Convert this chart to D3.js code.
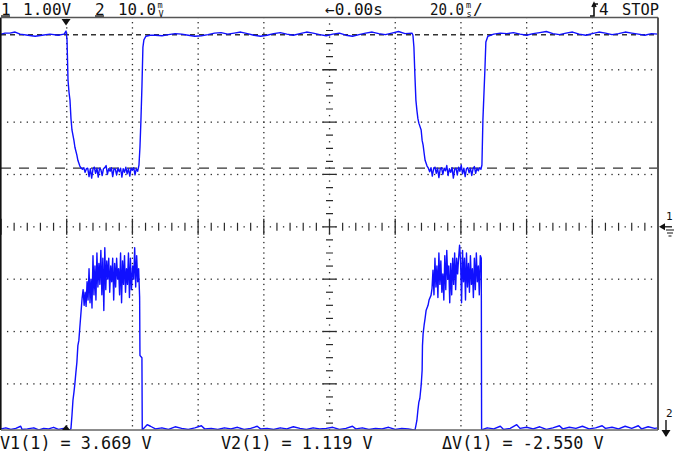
<!DOCTYPE html>
<html><head><meta charset="utf-8">
<script src="https://cdn.jsdelivr.net/npm/d3@7"></script>
<style>body{margin:0;background:#fff;}svg{display:block;}</style>
</head><body><svg id="c" width="674" height="452"></svg>
<script>
// ---- settings ----
const ch1VoltsPerDiv = 1.00;      // "1 1.00V"
const ch2MilliVoltsPerDiv = 10.0; // "2 10.0 mV"
const timePerDiv = 20.0;          // "20.0 ms/"
const ch1Position = 0;            // divisions (ground marker "1" at centre)
const ch2Position = -3.9;         // divisions (ground marker "2" at bottom)
const cursorVolts = [3.669, 1.119];
const readouts = ["V1(1) = 3.669 V", "V2(1) = 1.119 V", "\u0394V(1) = -2.550 V"];
const triggerTime = 19.8;         // ms from left edge

// ---- channel 1 trace: [time ms, volts] ----
const ch1Trace = [
 [0,3.68],[1.2,3.70],[2.7,3.70],[4.3,3.72],[5.8,3.68],[8.2,3.66],[10.4,3.64],[12.5,3.66],[14.9,3.68],[17.4,3.66],[19.2,3.68],[19.8,3.74],
 [20.1,3.57],[20.4,2.80],[20.7,2.57],[21.0,2.42],[21.3,2.07],[21.6,1.85],[22.2,1.65],[22.5,1.52],[23.1,1.37],[23.4,1.27],
 [24.0,1.16],[24.4,1.12],[24.8,1.10],[25.2,1.13],[25.6,1.04],[26.0,1.11],[26.4,1.12],[26.8,0.96],[27.2,1.11],[27.6,0.93],[28.0,1.10],[28.4,1.14],
 [28.8,1.02],[29.2,1.12],[29.6,0.95],[30.0,1.12],[30.4,1.09],[30.8,0.98],[31.2,1.11],[31.6,1.13],[32.0,1.17],[32.4,1.00],[32.8,1.11],[33.2,1.06],
 [33.6,1.13],[34.0,0.96],[34.4,1.11],[34.8,1.10],[35.2,0.99],[35.6,1.12],[36.0,1.05],[36.4,1.12],[36.8,0.95],[37.2,1.11],[37.6,1.04],[38.0,1.14],
 [38.4,1.01],[38.8,1.11],[39.2,0.97],[39.6,1.12],[40.0,1.08],[40.4,1.13],[40.8,0.99],[41.2,1.11],[41.6,1.06],[42.0,1.18],
 [42.3,1.52],[42.6,2.04],[42.9,2.67],[43.2,3.43],[43.5,3.57],[44.1,3.64],[45.4,3.66],
 [47,3.66],[49,3.65],[51,3.67],[53,3.69],[55,3.68],[57,3.66],[59,3.64],[61,3.65],[63,3.67],[65,3.70],[67,3.71],[69,3.68],[71,3.70],[73,3.72],
 [75,3.69],[77,3.66],[79,3.64],[81,3.66],[83,3.69],[85,3.71],[87,3.68],[89,3.66],[91,3.69],[93,3.72],[95,3.70],[97,3.67],[99,3.65],[101,3.68],
 [103,3.70],[105,3.66],[107,3.64],[109,3.67],[111,3.70],[113,3.72],[115,3.69],[117,3.67],[119,3.70],[121,3.73],[123,3.69],[125.1,3.70],
 [125.4,3.66],[125.7,3.43],[126.0,2.89],[126.3,2.42],[126.6,2.23],[126.9,2.07],[127.2,1.98],[127.9,1.85],[128.2,1.65],[128.5,1.56],[128.8,1.41],[129.1,1.27],
 [129.7,1.16],[130.1,1.12],[130.5,1.05],[130.9,1.13],[131.3,0.97],[131.7,1.11],[132.1,1.14],[132.5,1.02],[132.9,1.12],[133.3,0.94],[133.7,1.10],
 [134.1,1.13],[134.5,1.00],[134.9,1.12],[135.3,1.07],[135.7,1.17],[136.1,0.98],[136.5,1.11],[136.9,1.04],[137.3,1.13],[137.7,0.93],[138.1,1.10],
 [138.5,1.12],[138.9,0.99],[139.3,1.14],[139.7,1.06],[140.1,1.18],[140.5,1.01],[140.9,1.12],[141.3,0.96],[141.7,1.11],[142.1,1.13],[142.5,1.03],
 [142.9,1.12],[143.3,0.98],[143.7,1.11],[144.1,1.15],[144.5,1.02],[144.9,1.12],[145.3,1.07],[145.7,1.13],[146.1,1.10],[146.4,1.18],
 [146.7,2.04],[147.0,2.52],[147.3,2.99],[147.6,3.53],[148.2,3.64],
 [150,3.68],[152,3.70],[154,3.69],[156,3.71],[158,3.68],[160,3.66],[162,3.69],[164,3.71],[166,3.73],[168,3.69],[170,3.67],[172,3.70],[174,3.72],
 [176,3.68],[178,3.66],[180,3.69],[182,3.72],[184,3.70],[186,3.67],[188,3.69],[190,3.72],[192,3.70],[194,3.68],[196,3.66],[198,3.69],[200,3.68]
];

// ---- channel 2 trace: [time ms, millivolts] ----
const ch2Trace = [
 [0,0.4],[1.5,0.6],[3,0.3],[4.5,0.5],[6,0.9],[6.4,0.3],[8,0.4],[10,0.6],[11.5,0.2],[13,0.5],[14.5,0.4],[16,0.7],[17.5,0.3],[19,0.5],[20.5,0.2],[21.0,0.1],
 [21.3,0.5],[21.6,2.96],[21.9,5.83],[22.2,7.36],[22.5,9.08],[22.8,11.19],[23.1,13.1],[23.4,16.3],[23.7,17.3],[24.0,19.8],[24.4,23.0],
 [24.7,25.5],[25.0,27.0],[25.3,24.0],[25.6,26.5],[25.9,23.8],[26.2,28.5],[26.5,25.0],[26.8,31.0],[27.1,24.5],[27.4,29.0],[27.7,23.5],[28.0,33.5],
 [28.3,26.0],[28.6,31.5],[28.9,25.0],[29.2,34.0],[29.5,27.5],[29.8,32.0],[30.1,28.0],[30.4,34.5],[30.7,26.0],[31.0,33.0],[31.3,23.0],[31.6,35.0],
 [31.9,27.0],[32.2,32.5],[32.5,29.0],[32.8,33.0],[33.1,26.5],[33.4,31.5],[33.7,28.5],[34.0,33.0],[34.3,25.0],[34.6,32.0],[34.9,27.5],[35.2,33.0],
 [35.5,29.0],[35.8,31.0],[36.1,26.0],[36.4,34.0],[36.7,24.5],[37.0,32.5],[37.3,28.0],[37.6,33.5],[37.9,26.5],[38.2,31.0],[38.5,28.0],[38.8,34.0],
 [39.1,25.5],[39.4,33.0],[39.7,27.0],[40.1,31.5],[40.4,29.0],[40.7,35.0],[41.0,27.5],[41.3,33.5],[41.6,28.5],[41.9,31.0],[42.2,25.5],
 [42.3,14.4],[42.9,14.0],[43.0,0.2],
 [44.5,1.2],[45.5,0.9],[47,0.4],[49,0.6],[51,0.3],[53,0.8],[55,0.5],[57,0.3],[59,0.6],[61,1.0],[62,0.4],[64,0.5],[66,0.3],[68,0.6],[70,0.4],
 [72,0.7],[74,0.3],[76,0.5],[78,0.9],[79,0.4],[81,0.5],[83,0.3],[85,0.6],[87,0.4],[89,0.8],[91,0.5],[93,0.3],[95,0.6],[97,0.4],[99,0.5],
 [101,0.7],[103,0.3],[105,0.5],[107,0.9],[108,0.4],[110,0.6],[112,0.3],[114,0.5],[116,0.4],[118,0.7],[120,0.3],[122,0.5],[124,0.4],[125.7,0.2],
 [126.0,0.1],[126.3,1.0],[126.6,2.0],[126.9,3.9],[127.2,5.5],[127.5,6.2],[127.9,8.7],[128.2,11.6],[128.3,16.3],[128.5,18.6],[128.8,20.2],
 [129.1,21.5],[129.4,23.0],[130.0,24.0],[130.3,25.0],[130.9,25.9],[131.2,27.2],
 [131.5,30.7],[131.8,26.0],[132.1,33.0],[132.4,27.5],[132.7,31.5],[133.0,25.5],[133.3,34.0],[133.6,28.0],[133.9,32.5],[134.2,26.5],[134.5,30.0],
 [134.8,25.0],[135.1,33.5],[135.4,27.0],[135.7,34.5],[136.0,29.0],[136.3,31.5],[136.6,24.5],[136.9,32.0],[137.2,26.0],[137.5,33.0],[137.8,28.0],
 [138.1,34.0],[138.4,27.0],[138.7,33.0],[139.0,30.0],[139.3,33.0],[139.6,35.5],[139.9,32.5],[140.2,24.5],[140.5,34.5],[140.8,28.5],[141.1,33.0],
 [141.4,25.0],[141.7,34.0],[142.0,27.5],[142.3,32.0],[142.6,26.5],[142.9,33.5],[143.2,28.0],[143.5,31.0],[143.8,25.5],[144.1,33.0],[144.4,27.0],
 [144.7,34.0],[145.0,28.5],[145.3,31.5],[145.6,26.0],[145.9,33.5],[146.2,33.0],[146.3,0.2],
 [148,0.6],[150,0.4],[152,0.9],[153,0.3],[155,0.5],[157,1.2],[158,0.5],[160,0.7],[162,0.4],[164,0.8],[166,0.3],[168,0.6],[170,1.0],[171,0.4],
 [173,0.7],[175,0.5],[177,0.9],[179,0.4],[181,0.6],[183,1.0],[184,0.5],[186,0.7],[188,0.4],[190,0.9],[192,0.5],[194,1.0],[195,0.4],[197,0.8],
 [199,0.5],[200,0.6]
];

// ---- drawing ----
const svg = d3.select("#c");
const divPx = 52.35, centerY = 226.8;
const x = d3.scaleLinear().domain([0, 10 * timePerDiv]).range([1, 658]);
const yDiv = d3.scaleLinear().domain([-4, 4]).range([centerY + 4 * divPx, centerY - 4 * divPx]);
const y1 = v => yDiv(v / ch1VoltsPerDiv + ch1Position);
const y2 = mv => yDiv(mv / ch2MilliVoltsPerDiv + ch2Position);
const frame = {x0: 1, x1: 658, y0: 17.5, y1: 430};
const ink = "#2a2a2a";

svg.append("rect").attr("width", 674).attr("height", 452).attr("fill", "#fff");
svg.append("defs").append("clipPath").attr("id", "clip").append("rect")
  .attr("x", frame.x0).attr("y", frame.y0).attr("width", frame.x1 - frame.x0).attr("height", frame.y1 - frame.y0);

const grid = svg.append("g").attr("clip-path", "url(#clip)");
const dot = (cx, cy) => grid.append("rect").attr("x", cx - 0.6).attr("y", cy - 0.6).attr("width", 1.3).attr("height", 1.3).attr("fill", ink);
// vertical dotted division lines
d3.range(1, 10).filter(k => k !== 5).forEach(k => {
  const t = k * timePerDiv;
  d3.range(-40, 41).forEach(j => dot(x(t), yDiv(j / 10)));
});
// horizontal dotted division lines
[-3, -2, -1, 1, 2, 3].forEach(d => {
  d3.range(1, 100).forEach(j => dot(x(j * timePerDiv / 10), yDiv(d)));
});
// centre horizontal axis with sub-ticks
d3.range(0, 101).forEach(j => {
  const t = j * timePerDiv / 10;
  if (j % 10 === 0) {
    grid.append("line").attr("x1", x(t)).attr("x2", x(t)).attr("y1", yDiv(0) - 8).attr("y2", yDiv(0) + 8).attr("stroke", ink).attr("stroke-width", 1.3);
  } else if (j % 2 === 0) {
    grid.append("line").attr("x1", x(t)).attr("x2", x(t)).attr("y1", yDiv(0) - 4).attr("y2", yDiv(0) + 4).attr("stroke", ink).attr("stroke-width", 1.2);
  } else dot(x(t), yDiv(0));
});
// centre vertical axis with sub-ticks
d3.range(-32, 33).forEach(j => {
  const d = j / 8;
  const cx = x(5 * timePerDiv);
  if (j % 8 === 0) {
    grid.append("line").attr("x1", cx - 7).attr("x2", cx + 7).attr("y1", yDiv(d)).attr("y2", yDiv(d)).attr("stroke", ink).attr("stroke-width", 1.3);
  } else if (j % 2 === 0) {
    grid.append("line").attr("x1", cx - 3.5).attr("x2", cx + 3.5).attr("y1", yDiv(d)).attr("y2", yDiv(d)).attr("stroke", ink).attr("stroke-width", 1.2);
  } else dot(cx, yDiv(d));
});

// cursors
const cursorDash = ["5,4", "10,8"];
cursorVolts.forEach((v, i) => {
  grid.append("line").attr("x1", frame.x0).attr("x2", frame.x1).attr("y1", y1(v)).attr("y2", y1(v))
    .attr("stroke", "#333").attr("stroke-width", 1.3).attr("stroke-dasharray", cursorDash[i]);
});

// traces
const traces = svg.append("g").attr("clip-path", "url(#clip)");
traces.append("path").datum(ch1Trace)
  .attr("d", d3.line().x(d => x(d[0])).y(d => y1(d[1])))
  .attr("fill", "none").attr("stroke", "#1010ff").attr("stroke-width", 1.4).attr("stroke-linejoin", "round");
traces.append("path").datum(ch2Trace)
  .attr("d", d3.line().x(d => x(d[0])).y(d => y2(d[1])))
  .attr("fill", "none").attr("stroke", "#1010ff").attr("stroke-width", 1.4).attr("stroke-linejoin", "round");

// frame
svg.append("line").attr("x1", 0.8).attr("x2", 0.8).attr("y1", frame.y0).attr("y2", frame.y1).attr("stroke", "#111").attr("stroke-width", 1.6);
svg.append("line").attr("x1", frame.x0).attr("x2", frame.x1).attr("y1", frame.y0).attr("y2", frame.y0).attr("stroke", "#555").attr("stroke-width", 1.5);
svg.append("line").attr("x1", frame.x1).attr("x2", frame.x1).attr("y1", frame.y0).attr("y2", frame.y1).attr("stroke", "#555").attr("stroke-width", 2);
svg.append("line").attr("x1", frame.x0).attr("x2", frame.x1).attr("y1", frame.y1).attr("y2", frame.y1).attr("stroke", "#666").attr("stroke-width", 1.5);

// trigger markers
const tx = x(triggerTime);
svg.append("path").attr("d", `M${tx-4.5},${frame.y0+1.5}L${tx+4.5},${frame.y0+1.5}L${tx},${frame.y0+8}Z`).attr("fill", "#111");
svg.append("path").attr("d", `M${tx-4},${frame.y1}L${tx+4},${frame.y1}L${tx},${frame.y1-5}Z`).attr("fill", "#111");

// text
const font = "'DejaVu Sans Mono', monospace";
const txt = (s, px, py, size, extra) => {
  const t = svg.append("text").attr("x", px).attr("y", py).attr("font-family", font).attr("font-size", size).attr("fill", "#111").text(s);
  if (extra) extra(t);
  return t;
};
// top status bar
txt("1", 1, 15, 16);
svg.append("line").attr("x1", 1).attr("x2", 10).attr("y1", 16).attr("y2", 16).attr("stroke", "#111").attr("stroke-width", 1.3);
txt(ch1VoltsPerDiv.toFixed(2) + "V", 23, 15, 16);
txt("2", 95, 15, 16);
svg.append("line").attr("x1", 95).attr("x2", 104).attr("y1", 16).attr("y2", 16).attr("stroke", "#111").attr("stroke-width", 1.3);
txt(ch2MilliVoltsPerDiv.toFixed(1), 118, 15, 15.5, t => t.attr("textLength", 38).attr("lengthAdjust", "spacingAndGlyphs"));
txt("m", 157.5, 8, 8.5);
txt("V", 158.5, 16.5, 8.5);
txt("\u21900.00s", 325, 15, 16);
txt(timePerDiv.toFixed(1), 430, 15, 15, t => t.attr("textLength", 34).attr("lengthAdjust", "spacingAndGlyphs"));
txt("m", 466, 8, 8.5);
txt("s", 466.5, 16.5, 8.5);
txt("/", 473, 15, 16);
// trigger slope icon
svg.append("path").attr("d", "M590,16 L594,16 L594,4 L598,4 M592,7 L594,3 L596,7").attr("fill", "none").attr("stroke", "#111").attr("stroke-width", 1.6);
txt("4", 599, 15, 16);
txt("STOP", 622, 15, 16, t => t.attr("textLength", 37).attr("lengthAdjust", "spacingAndGlyphs"));

// right-side ground markers
txt("1", 666, 220, 11);
svg.append("path").attr("d", `M659,${yDiv(ch1Position)}L665,${yDiv(ch1Position)-3.5}L665,${yDiv(ch1Position)+3.5}Z`).attr("fill", "#111");
svg.append("line").attr("x1", 664).attr("x2", 672).attr("y1", yDiv(ch1Position)).attr("y2", yDiv(ch1Position)).attr("stroke", "#111").attr("stroke-width", 1.3);
svg.append("path").attr("d", "M666,230L674,230M667,233L673,233M668.5,236L671.5,236").attr("stroke", "#111").attr("stroke-width", 1.1);
txt("2", 666, 417, 11);
svg.append("line").attr("x1", 666).attr("x2", 666).attr("y1", 420).attr("y2", 436).attr("stroke", "#111").attr("stroke-width", 1.4);
svg.append("path").attr("d", "M661.5,430L670.5,430L666,437Z").attr("fill", "#111");

// bottom readouts
txt(readouts[0], 0, 448.5, 16.8);
txt(readouts[1], 221, 448.5, 16.8);
txt(readouts[2], 442, 448.5, 16.8);
</script></body></html>
